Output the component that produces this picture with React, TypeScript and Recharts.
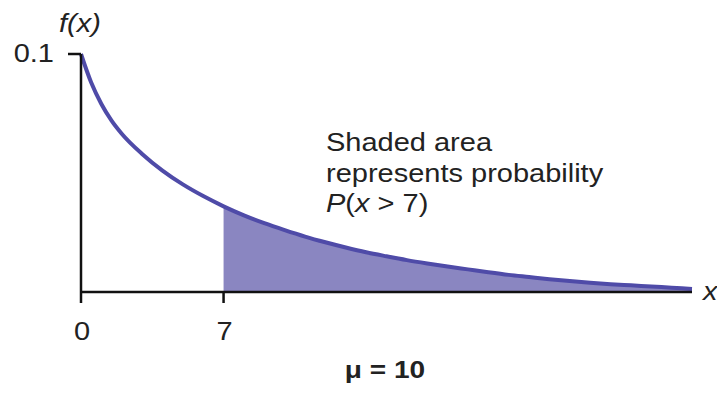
import { ComposedChart, Area, Line, XAxis, YAxis, Customized } from 'recharts';

const X_VALUES = [
  0, 0.5, 1, 1.5, 2, 3, 4, 5, 6, 7, 8, 9, 10, 11, 12, 13, 14, 15, 16, 17, 18,
  19, 20, 21, 22, 23, 24, 25, 26, 27, 28, 29, 30,
];
const DENSITY = [
  0.1, 0.088, 0.079, 0.072, 0.0665, 0.058, 0.051, 0.0452, 0.0403, 0.036,
  0.0322, 0.0289, 0.026, 0.0233, 0.0209, 0.0187, 0.0167, 0.015, 0.0134, 0.012,
  0.0107, 0.0095, 0.0083, 0.0072, 0.0063, 0.0054, 0.0046, 0.0039, 0.0033,
  0.0028, 0.0023, 0.0018, 0.0013,
];
const SHADE_FROM = 7;
const X_TICKS = [0, 7];
const Y_TICKS = [0.1];
const NOTE_LINES = ['Shaded area', 'represents probability'];

const LINE_COLOR = '#4f4ba8';
const FILL_COLOR = '#8a86c1';
const FONT = '"Liberation Sans", Arial, sans-serif';
const STRETCH = 1.16;

const chartData = X_VALUES.map((x, i) => ({
  x,
  f: DENSITY[i],
  shade: x >= SHADE_FROM ? DENSITY[i] : null,
}));

function Wide({ x, y, anchor = 'start', size = 25, italic = false, bold = false, sx = STRETCH, children }: any) {
  return (
    <text
      transform={`translate(${x},${y}) scale(${sx},1)`}
      textAnchor={anchor}
      fontFamily={FONT}
      fontSize={size}
      fontStyle={italic ? 'italic' : 'normal'}
      fontWeight={bold ? 'bold' : 'normal'}
      fill="#222"
    >
      {children}
    </text>
  );
}

function XTick({ x, payload }: any) {
  return <Wide x={x + 1} y={340} anchor="middle">{payload.value}</Wide>;
}

function YTick({ y, payload }: any) {
  return <Wide x={54} y={y + 8} anchor="end">{payload.value}</Wide>;
}

function Notes() {
  return (
    <g>
      <Wide x={59} y={32} italic>f(x)</Wide>
      <Wide x={703} y={300} italic>x</Wide>
      {NOTE_LINES.map((t, i) => (
        <Wide key={t} x={326} y={151 + i * 30.5}>{t}</Wide>
      ))}
      <text
        transform={`translate(326,212) scale(${STRETCH},1)`}
        fontFamily={FONT}
        fontSize={25}
        fill="#222"
      >
        <tspan fontStyle="italic">P</tspan>(<tspan fontStyle="italic">x</tspan> &gt; 7)
      </text>
      <Wide x={385} y={378} anchor="middle" size={23} bold sx={1.22}>μ = 10</Wide>
    </g>
  );
}

export default function App() {
  return (
    <div style={{ position: 'absolute', left: 0, top: 0, background: '#fff' }}>
      <ComposedChart
        width={717}
        height={394}
        data={chartData}
        margin={{ top: 54, right: 25, bottom: 0, left: 0 }}
      >
        <XAxis
          dataKey="x"
          type="number"
          domain={[0, 30]}
          ticks={X_TICKS}
          tickSize={11}
          height={102}
          axisLine={{ stroke: '#111', strokeWidth: 2.5 }}
          tickLine={{ stroke: '#111', strokeWidth: 2.5 }}
          tick={<XTick />}
        />
        <YAxis
          type="number"
          domain={[0, 0.1]}
          ticks={Y_TICKS}
          tickSize={13}
          width={81}
          axisLine={{ stroke: '#111', strokeWidth: 2.5 }}
          tickLine={{ stroke: '#111', strokeWidth: 2.5 }}
          tick={<YTick />}
        />
        <Area
          dataKey="shade"
          type="monotone"
          stroke="none"
          fill={FILL_COLOR}
          fillOpacity={1}
          isAnimationActive={false}
        />
        <Line
          dataKey="f"
          type="monotone"
          stroke={LINE_COLOR}
          strokeWidth={4}
          dot={false}
          activeDot={false}
          isAnimationActive={false}
        />
        <Customized component={Notes} />
      </ComposedChart>
    </div>
  );
}
